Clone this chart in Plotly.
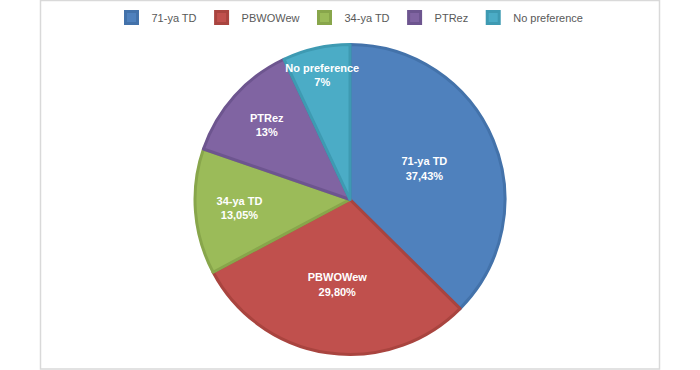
import plotly.graph_objects as go

labels = ["71-ya TD", "PBWOWew", "34-ya TD", "PTRez", "No preference"]
values = [37.43, 29.80, 13.05, 12.72, 7.00]
value_text = ["37,43%", "29,80%", "13,05%", "13%", "7%"]
fill_colors = ["#4F81BD", "#C0504D", "#9BBB59", "#8064A2", "#4BACC6"]
line_colors = ["#4372AA", "#A9443F", "#88A64B", "#6D558F", "#3E9AB2"]

W, H = 700, 370

fig = go.Figure(go.Pie(
    labels=labels,
    values=values,
    text=value_text,
    texttemplate="<b>%{label}<br>%{text}</b>",
    textposition="inside",
    insidetextorientation="horizontal",
    insidetextfont=dict(family="Liberation Sans", size=11, color="white"),
    sort=False,
    direction="clockwise",
    rotation=0,
    marker=dict(colors=fill_colors, line=dict(color=line_colors, width=3)),
    domain=dict(x=[195 / W, 505 / W], y=[1 - 354.5 / H, 1 - 44.5 / H]),
    hoverinfo="label+text",
))

fig.add_shape(type="rect", xref="paper", yref="paper",
              x0=40.5 / W, x1=659.5 / W, y0=1 - 369 / H, y1=1 - 0.5 / H,
              line=dict(color="#D9D9D9", width=1.5), fillcolor="rgba(0,0,0,0)", layer="below")

fig.update_layout(
    width=W, height=H,
    margin=dict(l=0, r=0, t=0, b=0, pad=0, autoexpand=False),
    paper_bgcolor="white",
    plot_bgcolor="white",
    showlegend=True,
    uniformtext=dict(minsize=11, mode="show"),
    legend=dict(orientation="h", x=0.5, xanchor="center", y=1 - 3 / H, yanchor="top",
                font=dict(family="Liberation Sans", size=11, color="#595959"),
                itemwidth=30, traceorder="normal", bgcolor="rgba(0,0,0,0)"),
)

fig.write_html("out.html", config={"displayModeBar": False},
               post_script="document.body.style.margin='0';document.body.style.padding='0';")
